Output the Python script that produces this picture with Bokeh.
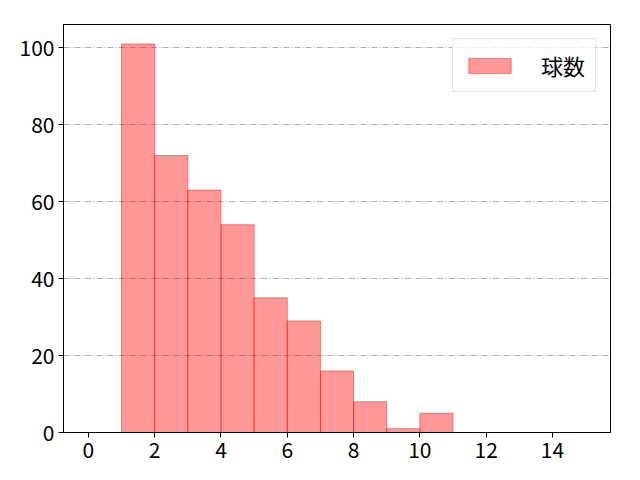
from bokeh.plotting import figure
from bokeh.models import Range1d, FixedTicker, Legend, LegendItem
from bokeh.embed import file_html
from bokeh.resources import INLINE

bin_edges = [0, 1, 2, 3, 4, 5, 6, 7, 8, 9, 10, 11, 12, 13, 14, 15]
counts = [0, 101, 72, 63, 54, 35, 29, 16, 8, 1, 5, 0, 0, 0, 0]
label = "球数"
x_ticks = [0, 2, 4, 6, 8, 10, 12, 14]
y_ticks = [0, 20, 40, 60, 80, 100]

FONT = "Noto Sans CJK JP"

p = figure(width=632, height=472, output_backend="svg", toolbar_location=None,
           x_range=Range1d(-0.75, 15.75), y_range=Range1d(0, 106.05),
           min_border_left=63, min_border_top=24, min_border_right=22, min_border_bottom=40)

p.xgrid.visible = False
p.ygrid.grid_line_color = "#b0b0b0"
p.ygrid.grid_line_width = 1
p.ygrid.grid_line_dash = "6 2 1 2"

p.outline_line_color = "black"
p.outline_line_width = 1

r = p.quad(left=bin_edges[:-1], right=bin_edges[1:], top=counts, bottom=0,
           fill_color="red", fill_alpha=0.4, line_color="red", line_alpha=0.45, line_width=1)

for ax in (p.xaxis, p.yaxis):
    ax.major_label_text_font = FONT
    ax.major_label_text_font_size = "21px"
    ax.major_label_text_color = "black"
    ax.axis_line_color = "black"
    ax.major_tick_line_color = "black"
    ax.major_tick_out = 5
    ax.major_tick_in = 0
    ax.minor_tick_line_color = None
    ax.major_label_standoff = 4
p.xaxis.ticker = FixedTicker(ticks=x_ticks)
p.yaxis.ticker = FixedTicker(ticks=y_ticks)

legend = Legend(items=[LegendItem(label=label, renderers=[r])], location="top_right")
legend.label_text_font = FONT
legend.label_text_font_size = "22px"
legend.label_text_color = "black"
legend.label_height = 20
legend.glyph_width = 53
legend.glyph_height = 19
legend.label_standoff = 25
legend.padding = 10
legend.spacing = 0
legend.margin = 14
legend.border_line_color = "#cccccc"
legend.border_line_width = 1
legend.background_fill_alpha = 0.8
p.add_layout(legend)

open("out.html", "w").write(file_html(p, INLINE))
